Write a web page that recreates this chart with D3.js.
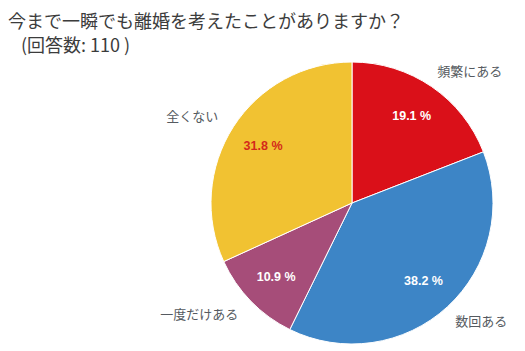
<!DOCTYPE html>
<html><head><meta charset="utf-8">
<script src="https://cdn.jsdelivr.net/npm/d3@7"></script>
<style>
body{margin:0;background:#fff;}
svg{display:block;}
</style></head>
<body>
<svg id="chart" width="525" height="351"></svg>
<script>
const title = "今まで一瞬でも離婚を考えたことがありますか？";
const subtitle = "(回答数: 110 )";
const categories = ["頻繁にある", "数回ある", "一度だけある", "全くない"];
const counts = [21, 42, 12, 35];
const percentLabels = ["19.1 %", "38.2 %", "10.9 %", "31.8 %"];
const colors = ["#da1019", "#3d85c6", "#a64d79", "#f1c232"];
const pctColors = ["#ffffff", "#ffffff", "#ffffff", "#d42a1a"];

const svg = d3.select("#chart");
const cx = 352, cy = 203, r = 141;

svg.append("text").attr("x", 8).attr("y", 28)
  .attr("font-family", "'Noto Sans CJK JP', sans-serif").attr("font-size", 18)
  .attr("fill", "#3c3c3c").text(title);
svg.append("text").attr("x", 21).attr("y", 52)
  .attr("font-family", "'Noto Sans CJK JP', sans-serif").attr("font-size", 18)
  .attr("fill", "#3c3c3c").text(subtitle);

const data = categories.map((c, i) => ({cat: c, value: counts[i], pct: percentLabels[i], color: colors[i], pc: pctColors[i]}));
const pie = d3.pie().sort(null).value(d => d.value);
const arcs = pie(data);
const arc = d3.arc().innerRadius(0).outerRadius(r);
const g = svg.append("g").attr("transform", `translate(${cx},${cy})`);

g.selectAll("path").data(arcs).join("path")
  .attr("d", arc).attr("fill", d => d.data.color)
  .attr("stroke", "#ffffff").attr("stroke-width", 1);

const inner = d3.arc().innerRadius(r * 0.75).outerRadius(r * 0.75);
g.selectAll("text.pct").data(arcs).join("text").attr("class", "pct")
  .attr("transform", d => { const [x, y] = inner.centroid(d); return `translate(${x},${y})`; })
  .attr("text-anchor", "middle").attr("dy", "0.36em")
  .attr("font-family", "'Liberation Sans', Arial, sans-serif").attr("font-weight", "bold")
  .attr("font-size", 12.5).attr("fill", d => d.data.pc)
  .text(d => d.data.pct);

const outer = d3.arc().innerRadius(r * 1.135).outerRadius(r * 1.135);
g.selectAll("text.lbl").data(arcs).join("text").attr("class", "lbl")
  .attr("transform", d => {
    const [x, y] = outer.centroid(d);
    const mid = (d.startAngle + d.endAngle) / 2;
    const dx = mid < Math.PI ? -5 : 1;
    return `translate(${x + dx},${y})`;
  })
  .attr("text-anchor", d => ((d.startAngle + d.endAngle) / 2 < Math.PI ? "start" : "end"))
  .attr("dy", "0.36em")
  .attr("font-family", "'Noto Sans CJK JP', sans-serif").attr("font-size", 13)
  .attr("fill", "#555a60")
  .text(d => d.data.cat);
</script>
</body></html>
